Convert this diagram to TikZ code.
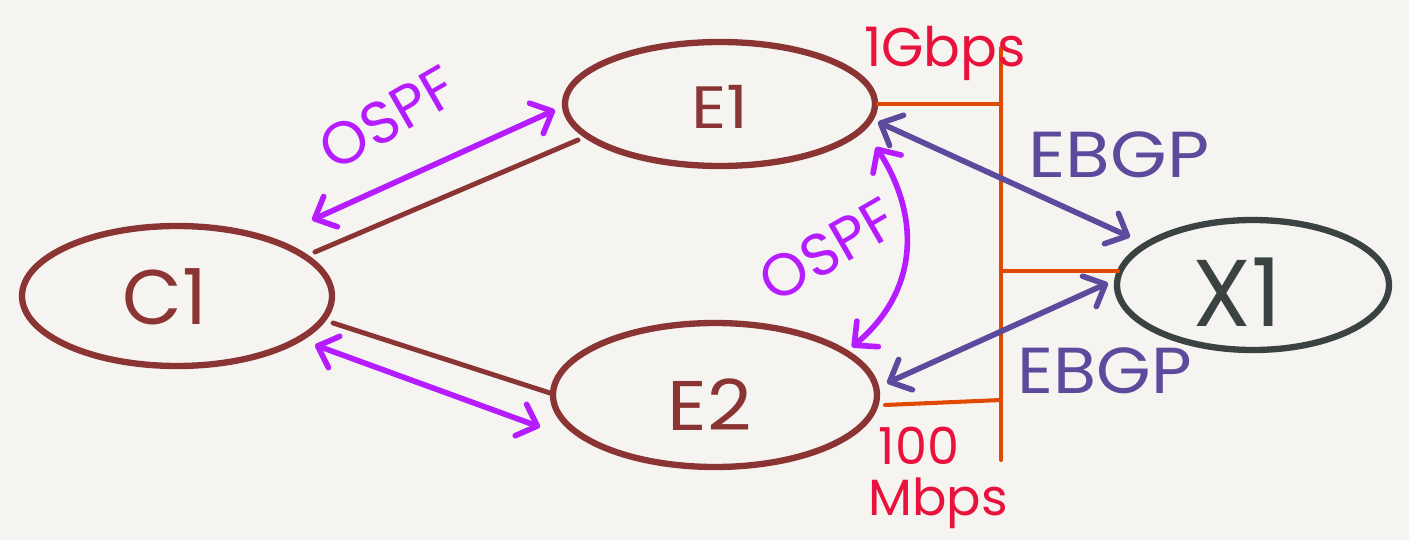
\documentclass[tikz,border=0pt]{standalone}
\usepackage{fontspec}
\setmainfont{Poppins}
\usetikzlibrary{arrows.meta,calc,shapes.geometric}
\definecolor{bg}{HTML}{F5F4F1}
\definecolor{brn}{HTML}{8B3434}
\definecolor{mag}{HTML}{B51CFF}
\definecolor{slate}{HTML}{5C4A9C}
\definecolor{org}{HTML}{E04A00}
\definecolor{rd}{HTML}{E8123C}
\definecolor{dgr}{HTML}{3B4242}
\tikzset{
  rtr/.style={ellipse,draw=brn,line width=3.6pt,inner sep=0pt,outer sep=0pt},
  link/.style={draw=brn,line width=2.8pt,line cap=round},
  bus/.style={draw=org,line width=2.3pt,line cap=round},
  barb/.tip={Straight Barb[length=10pt,width=19pt,line cap=round,line join=round]},
  ospf/.style={draw=mag,line width=3.2pt,line cap=round,barb-barb},
  bgp/.style={draw=slate,line width=3.2pt,line cap=round,barb-barb},
  fs/.style={font=\fontsize{#1}{#1}\selectfont},
}
\begin{document}
\begin{tikzpicture}[x=0.02cm,y=-0.02cm]
\fill[bg] (0,0) rectangle (1409,540);
\useasboundingbox (0,0) rectangle (1409,540);
% routers
\node[rtr,minimum width=310*0.02cm,minimum height=140*0.02cm] (C1) at (177,296) {};
\node[rtr,minimum width=310*0.02cm,minimum height=124*0.02cm] (E1) at (720,104) {};
\node[rtr,minimum width=324*0.02cm,minimum height=144*0.02cm] (E2) at (715,395) {};
\node[rtr,draw=dgr,minimum width=272*0.02cm,minimum height=130*0.02cm] (X1) at (1253,285) {};
\node[text=brn,fs=44pt] (tC1) at (165,297) {C1};
\node[text=brn,fs=34pt,xscale=1.15] (tE1) at (720,107) {E1};
\node[text=brn,fs=40pt,xscale=1.1] (tE2) at (710,405) {E2};
\node[text=dgr,fs=54pt] (tX1) at (1237,292) {X1};
% links
\draw[link] ($(C1)+(138,-44)$) -- ($(E1)+(-142,36)$);
\draw[link] ($(C1)+(156,27)$) -- ($(E2)+(-165,-2)$);
% bus
\coordinate (busT) at (1001,48);
\coordinate (busB) at (1001,460);
\coordinate (b1) at (1001,104);
\coordinate (b2) at (1001,271);
\coordinate (b3) at (1001,400);
\draw[bus] (busT) -- (busB);
\draw[bus] ($(E1)+(158,0)$) -- (b1);
\draw[bus] (b2) -- ($(X1)+(-135,-14)$);
\draw[bus] ($(E2)+(170,10)$) -- (b3);
% OSPF arrows
\draw[ospf] ($(C1)+(135,-76)$) -- ($(E1)+(-165,6)$);
\draw[ospf] ($(C1)+(138,49)$) -- ($(E2)+(-175,32)$);
\draw[ospf] ($(E1)+(156,43)$) .. controls (920,215) and (920,290) .. ($(E2)+(137,-48)$);
% BGP arrows
\draw[bgp] ($(E1)+(158,18)$) -- ($(X1)+(-123,-48)$);
\draw[bgp] ($(E2)+(172,-12)$) -- ($(X1)+(-145,-2)$);
% labels
\node[text=mag,fs=34pt,rotate=30] (o1) at (388,118) {OSPF};
\node[text=mag,fs=34pt,rotate=30] (o2) at (828,250) {OSPF};
\node[text=rd,fs=31pt] (g1) at (945,53) {1Gbps};
\node[text=rd,fs=29pt,align=left,anchor=west,inner sep=0pt] (g2) at (868,478) {\hspace*{6pt}100\\Mbps};
\node[text=slate,fs=37pt,xscale=1.12] (e1) at (1119,155) {EBGP};
\node[text=slate,fs=37pt,xscale=1.08] (e2) at (1105,371) {EBGP};
\end{tikzpicture}
\end{document}
